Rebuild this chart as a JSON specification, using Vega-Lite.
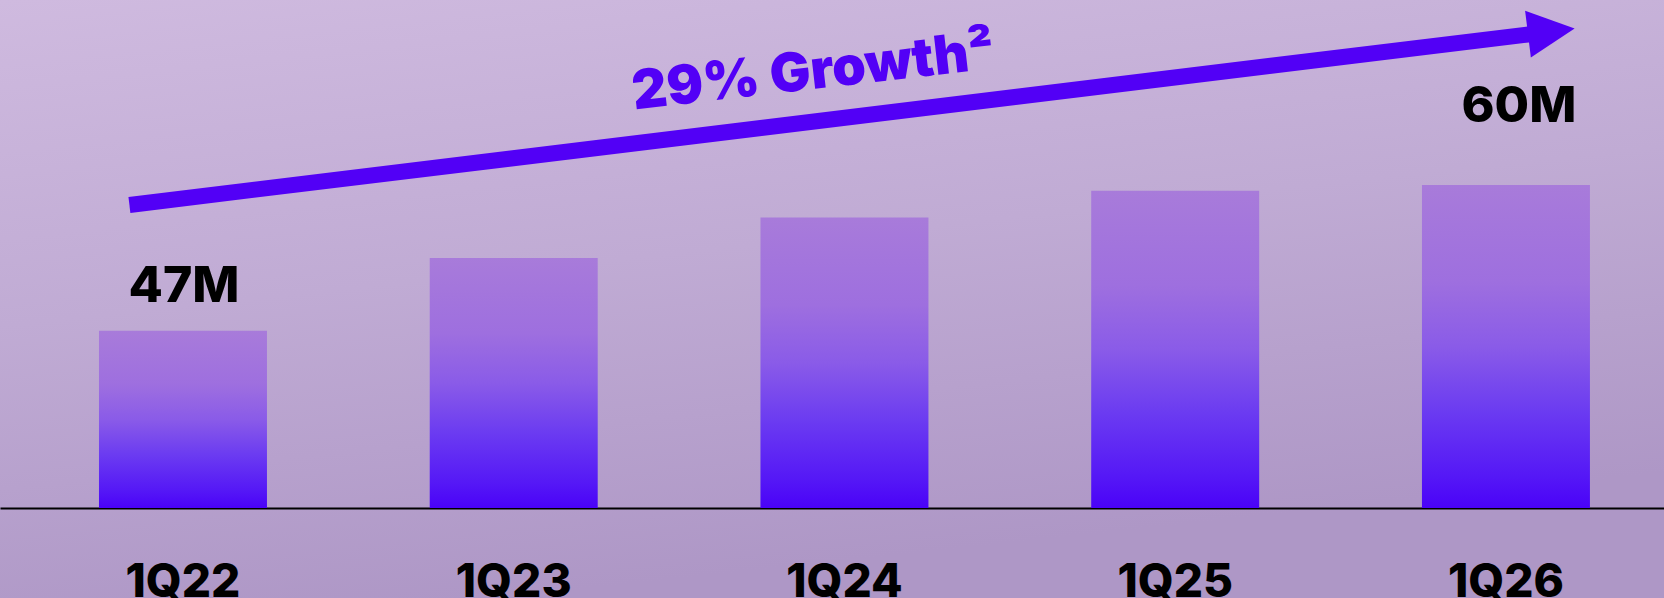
{
  "$schema": "https://vega.github.io/schema/vega-lite/v6.json",
  "width": 1664,
  "height": 598,
  "padding": 0,
  "autosize": {"type": "none"},
  "background": "#c0acd4",
  "config": {
    "view": {
      "stroke": null,
      "fill": {
        "gradient": "linear", "x1": 0, "y1": 0, "x2": 0.3, "y2": 1,
        "stops": [
          {"offset": 0, "color": "#cfbadf"},
          {"offset": 0.5, "color": "#c0abd4"},
          {"offset": 1, "color": "#ae97c6"}
        ]
      }
    },
    "font": "Inter"
  },
  "datasets": {
    "bars": [
      {"quarter": "1Q22", "users": 47.0, "label": "47M"},
      {"quarter": "1Q23", "users": 53.5, "label": ""},
      {"quarter": "1Q24", "users": 57.1, "label": ""},
      {"quarter": "1Q25", "users": 59.5, "label": ""},
      {"quarter": "1Q26", "users": 60.0, "label": "60M"}
    ],
    "shaft": [
      {"t0": -0.162, "v0": 58.22, "t1": 4.073, "v1": 73.45}
    ],
    "head": [
      {"t": 4.137, "v": 73.71}
    ],
    "growth": [
      {"t": 1.906, "v": 70.0, "text": "29% Growth²"}
    ]
  },
  "layer": [
    {
      "data": {"name": "bars"},
      "encoding": {
        "x": {
          "field": "quarter", "type": "nominal", "sort": null,
          "scale": {"paddingInner": 0.4921, "paddingOuter": 0.2616, "align": 0.572},
          "axis": {
            "title": null, "orient": "bottom", "offset": -90,
            "domain": true, "domainColor": "#000000", "domainWidth": 2,
            "ticks": false, "grid": false,
            "labelAngle": 0, "labelFont": "Inter", "labelFontWeight": 800,
            "labelFontSize": 46, "labelColor": "#000000",
            "labelBaseline": "alphabetic", "labelPadding": 88,
            "labelOverlap": false, "labelFlush": false
          }
        },
        "y": {
          "field": "users", "type": "quantitative",
          "scale": {"domain": [31.2, 76.5], "range": [508, 0], "zero": false, "nice": false},
          "axis": null
        }
      },
      "layer": [
        {
          "mark": {
            "type": "bar",
            "color": {
              "gradient": "linear", "x1": 0, "y1": 0, "x2": 0, "y2": 1,
              "stops": [
                {"offset": 0, "color": "#a87bda"},
                {"offset": 0.3, "color": "#9e6fdf"},
                {"offset": 0.5, "color": "#8a5be8"},
                {"offset": 0.7, "color": "#6b3bf1"},
                {"offset": 0.9, "color": "#5518f6"},
                {"offset": 1, "color": "#4a02f8"}
              ]
            }
          },
          "encoding": {"y2": {"datum": 31.2}}
        },
        {
          "transform": [{"filter": "datum.quarter === '1Q22'"}],
          "mark": {"type": "text", "font": "Inter", "fontWeight": 800, "fontSize": 50, "color": "#000000", "baseline": "alphabetic", "align": "center", "dy": -29, "dx": 1},
          "encoding": {"text": {"field": "label"}}
        },
        {
          "transform": [{"filter": "datum.quarter === '1Q26'"}],
          "mark": {"type": "text", "font": "Inter", "fontWeight": 800, "fontSize": 50, "color": "#000000", "baseline": "alphabetic", "align": "center", "dy": -63, "dx": 13},
          "encoding": {"text": {"field": "label"}}
        }
      ]
    },
    {
      "data": {"name": "shaft"},
      "mark": {"type": "rule", "color": "#5200f6", "strokeWidth": 16, "strokeCap": "butt"},
      "encoding": {
        "x": {"field": "t0", "type": "quantitative", "scale": {"domain": [-0.5533, 4.4777], "nice": false, "zero": false}, "axis": null},
        "x2": {"field": "t1"},
        "y": {"field": "v0", "type": "quantitative", "scale": {"domain": [31.2, 76.5], "range": [508, 0], "zero": false, "nice": false}, "axis": null},
        "y2": {"field": "v1"}
      }
    },
    {
      "data": {"name": "head"},
      "mark": {"type": "point", "shape": "M1,0L-1,-1L-1,1Z", "size": 2209, "angle": -7, "filled": true, "color": "#5200f6", "opacity": 1, "strokeWidth": 0},
      "encoding": {
        "x": {"field": "t", "type": "quantitative", "scale": {"domain": [-0.5533, 4.4777], "nice": false, "zero": false}, "axis": null},
        "y": {"field": "v", "type": "quantitative", "scale": {"domain": [31.2, 76.5], "range": [508, 0], "zero": false, "nice": false}, "axis": null}
      }
    },
    {
      "data": {"name": "growth"},
      "mark": {"type": "text", "font": "Inter", "fontWeight": 900, "fontSize": 54, "color": "#5200f6", "angle": -6.5, "align": "center", "baseline": "middle"},
      "encoding": {
        "x": {"field": "t", "type": "quantitative", "scale": {"domain": [-0.5533, 4.4777], "nice": false, "zero": false}, "axis": null},
        "y": {"field": "v", "type": "quantitative", "scale": {"domain": [31.2, 76.5], "range": [508, 0], "zero": false, "nice": false}, "axis": null},
        "text": {"field": "text"}
      }
    }
  ],
  "resolve": {"scale": {"x": "independent", "y": "independent"}, "axis": {"x": "independent", "y": "independent"}}
}
